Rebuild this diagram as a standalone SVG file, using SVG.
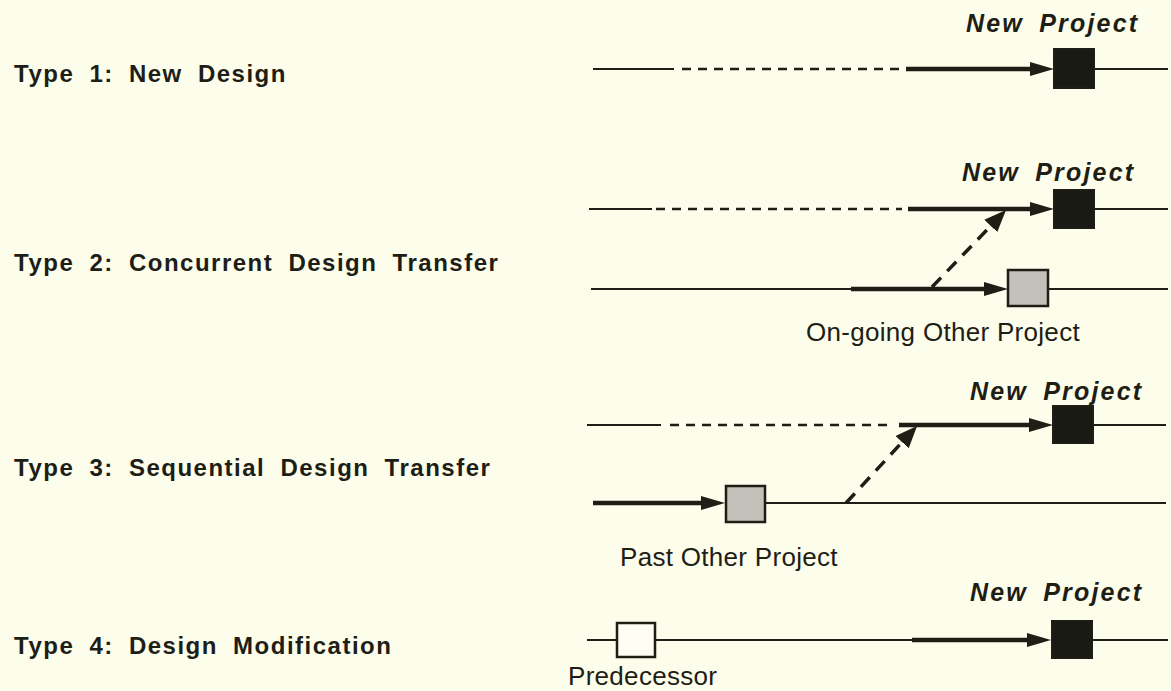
<svg xmlns="http://www.w3.org/2000/svg" width="1171" height="691" viewBox="0 0 1171 691">
  <style>
    .bg { fill: #fcfdea; }
    .label { font-family: "Liberation Sans", Arial, sans-serif; font-weight: bold; font-size: 24px; letter-spacing: 1.5px; word-spacing: 7px; fill: #1e1e16; }
    .np { font-family: "Liberation Sans", Arial, sans-serif; font-weight: bold; font-style: italic; font-size: 25px; letter-spacing: 2.2px; word-spacing: 6px; fill: #1e1e16; }
    .cap { font-family: "Liberation Sans", Arial, sans-serif; font-size: 26px; letter-spacing: 0.3px; fill: #1e1e16; }
    .thin { stroke: #1e1e16; stroke-width: 2; fill: none; }
    .thick { stroke: #1e1e16; stroke-width: 4.5; fill: none; }
    .dash { stroke: #1e1e16; stroke-width: 2.5; stroke-dasharray: 9 7; fill: none; }
    .diag { stroke: #1e1e16; stroke-width: 3.5; stroke-dasharray: 13 9; fill: none; }
    .proj { fill: #1a1a14; stroke: #1e1e16; stroke-width: 2; }
    .other { fill: #c2c2ba; stroke: #1e1e16; stroke-width: 2.5; }
    .pred { fill: #fdfdf4; stroke: #1e1e16; stroke-width: 2.5; }
  </style>
  <defs>
    <marker id="arrow" markerUnits="userSpaceOnUse" markerWidth="25" markerHeight="15" refX="14" refY="7" orient="auto">
      <path d="M0,0 L24,7 L0,14 z" fill="#1e1e16"/>
    </marker>
    <marker id="arrowDiag" markerUnits="userSpaceOnUse" markerWidth="23" markerHeight="19" refX="10" refY="9" orient="auto">
      <path d="M0,0 L22,9 L0,18 z" fill="#1e1e16"/>
    </marker>
  </defs>

  <rect class="bg" x="0" y="0" width="1171" height="691"/>

  <!-- row labels -->
  <g id="labels">
    <text class="label" x="14" y="82">Type 1: New Design</text>
    <text class="label" x="14" y="271">Type 2: Concurrent Design Transfer</text>
    <text class="label" x="14" y="476">Type 3: Sequential Design Transfer</text>
    <text class="label" x="14" y="654">Type 4: Design Modification</text>
  </g>

  <!-- timelines and transfer arrows -->
  <g id="connectors">
    <!-- Type 1 -->
    <line class="thin" x1="593" y1="69" x2="674" y2="69"/>
    <line class="dash" x1="682" y1="69" x2="904" y2="69"/>
    <line class="thick" x1="906" y1="69" x2="1044" y2="69" marker-end="url(#arrow)"/>
    <line class="thin" x1="1094" y1="69" x2="1168" y2="69"/>

    <!-- Type 2 -->
    <line class="thin" x1="589" y1="209" x2="652" y2="209"/>
    <line class="dash" x1="656" y1="209" x2="902" y2="209"/>
    <line class="thick" x1="908" y1="209" x2="1044" y2="209" marker-end="url(#arrow)"/>
    <line class="thin" x1="1094" y1="209" x2="1168" y2="209"/>
    <line class="thin" x1="591" y1="289" x2="851" y2="289"/>
    <line class="thick" x1="851" y1="289" x2="998" y2="289" marker-end="url(#arrow)"/>
    <line class="thin" x1="1048" y1="289" x2="1168" y2="289"/>
    <line class="diag" x1="932" y1="287" x2="997.7" y2="218.7" marker-end="url(#arrowDiag)"/>

    <!-- Type 3 -->
    <line class="thin" x1="587" y1="425" x2="661" y2="425"/>
    <line class="dash" x1="670" y1="425" x2="892" y2="425"/>
    <line class="thick" x1="899" y1="425" x2="1043" y2="425" marker-end="url(#arrow)"/>
    <line class="thin" x1="1093" y1="425" x2="1166" y2="425"/>
    <line class="thick" x1="593" y1="503" x2="715" y2="503" marker-end="url(#arrow)"/>
    <line class="thin" x1="765" y1="503" x2="1166" y2="503"/>
    <line class="diag" x1="846" y1="503" x2="908.9" y2="434.8" marker-end="url(#arrowDiag)"/>

    <!-- Type 4 -->
    <line class="thin" x1="587" y1="640" x2="617" y2="640"/>
    <line class="thin" x1="655" y1="640" x2="912" y2="640"/>
    <line class="thick" x1="912" y1="640" x2="1041" y2="640" marker-end="url(#arrow)"/>
    <line class="thin" x1="1092" y1="640" x2="1168" y2="640"/>
  </g>

  <!-- Type 1 nodes -->
  <g id="new-project-1">
    <rect class="proj" x="1054" y="49" width="40" height="39"/>
    <text class="np" x="966" y="32">New Project</text>
  </g>

  <!-- Type 2 nodes -->
  <g id="new-project-2">
    <rect class="proj" x="1054" y="190" width="40" height="38"/>
    <text class="np" x="962" y="181">New Project</text>
  </g>
  <g id="ongoing-other-project">
    <rect class="other" x="1008" y="270" width="40" height="36"/>
    <text class="cap" x="806" y="341">On-going Other Project</text>
  </g>

  <!-- Type 3 nodes -->
  <g id="new-project-3">
    <rect class="proj" x="1053" y="406" width="40" height="37"/>
    <text class="np" x="970" y="400">New Project</text>
  </g>
  <g id="past-other-project">
    <rect class="other" x="726" y="486" width="39" height="36"/>
    <text class="cap" x="620" y="566">Past Other Project</text>
  </g>

  <!-- Type 4 nodes -->
  <g id="new-project-4">
    <rect class="proj" x="1052" y="621" width="40" height="37"/>
    <text class="np" x="970" y="601">New Project</text>
  </g>
  <g id="predecessor">
    <rect class="pred" x="617" y="623" width="38" height="34"/>
    <text class="cap" x="568" y="685">Predecessor</text>
  </g>
</svg>
